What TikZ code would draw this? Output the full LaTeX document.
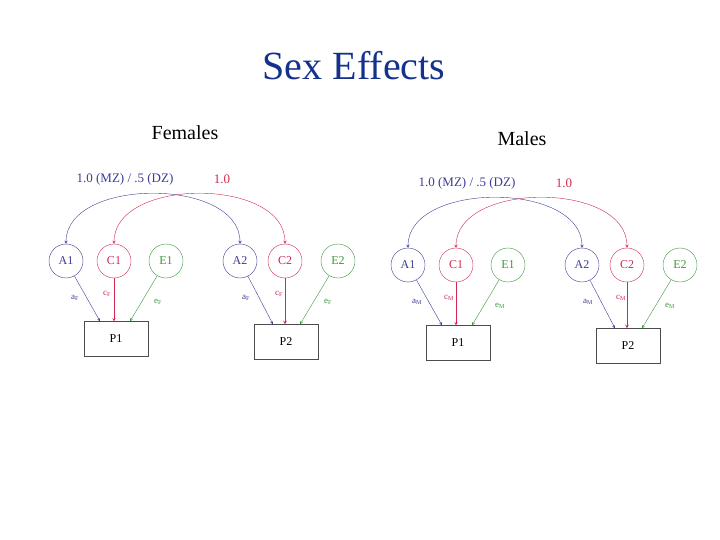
\documentclass[tikz,border=0pt]{standalone}
\usepackage{fontspec}
\setmainfont{Liberation Serif}
\usetikzlibrary{calc}
\definecolor{bl}{RGB}{60,60,150}
\definecolor{rd}{RGB}{210,40,80}
\definecolor{gr}{RGB}{60,150,60}
\definecolor{tt}{RGB}{20,50,140}
\begin{document}
\begin{tikzpicture}[x=1pt,y=-1pt,
  lat/.style={circle,draw,minimum size=34pt,inner sep=0pt,font=\fontsize{12}{12}\selectfont},
  obs/.style={draw=black!70,minimum width=64pt,minimum height=35pt,font=\fontsize{12}{12}\selectfont},
  pth/.style={-stealth,thin},
  lab/.style={font=\fontsize{9}{9}\selectfont,inner sep=1pt}]
\useasboundingbox (0,0) rectangle (720,540);
\node[tt,font=\fontsize{40}{40}\selectfont] (title) at (354,66) {Sex Effects};
\node[font=\fontsize{20}{20}\selectfont] (fem) at (185,133) {Females};
\node[font=\fontsize{20}{20}\selectfont] (mal) at (522,139) {Males};
\foreach \p/\ox/\oy/\s in {f/0/0/F, m/342/4/M}{
 \begin{scope}[shift={(\ox,\oy)}]
  \node[lat,bl] (\p A1) at (66,261) {A1};
  \node[lat,rd] (\p C1) at (114,261) {C1};
  \node[lat,gr] (\p E1) at (166,261) {E1};
  \node[lat,bl] (\p A2) at (240,261) {A2};
  \node[lat,rd] (\p C2) at (285,261) {C2};
  \node[lat,gr] (\p E2) at (338,261) {E2};
  \node[obs] (\p P1) at (116,339) {P1};
  \node[obs] (\p P2) at (286,342) {P2};
  \node[bl,font=\fontsize{13}{13}\selectfont] (\p l1) at (125,179) {1.0 (MZ) / .5 (DZ)};
  \node[rd,font=\fontsize{13}{13}\selectfont] (\p l2) at (222,179) {1.0};
  \draw[stealth-stealth,bl] (\p A1.north) .. controls (66,177) and (240,177) .. (\p A2.north);
  \draw[stealth-stealth,rd] (\p C1.north) .. controls (114,177) and (285,177) .. (\p C2.north);
  \draw[pth,bl] (\p A1) -- ($(\p P1.north)+(-16,0)$);
  \draw[pth,rd] (\p C1) -- (\p C1 |- \p P1.north);
  \draw[pth,gr] (\p E1) -- ($(\p P1.north)+(14,0)$);
  \draw[pth,bl] (\p A2) -- ($(\p P2.north)+(-13,0)$);
  \draw[pth,rd,semithick] (\p C2) -- (\p C2 |- \p P2.north);
  \draw[pth,gr] (\p E2) -- ($(\p P2.north)+(14,0)$);
  \node[lab,bl] (\p ta1) at (75,298) {a\textsubscript{\s}};
  \node[lab,rd] (\p tc1) at (107,294) {c\textsubscript{\s}};
  \node[lab,gr] (\p te1) at (158,302) {e\textsubscript{\s}};
  \node[lab,bl] (\p ta2) at (246,298) {a\textsubscript{\s}};
  \node[lab,rd] (\p tc2) at (279,294) {c\textsubscript{\s}};
  \node[lab,gr] (\p te2) at (328,302) {e\textsubscript{\s}};
 \end{scope}}
\end{tikzpicture}
\end{document}
